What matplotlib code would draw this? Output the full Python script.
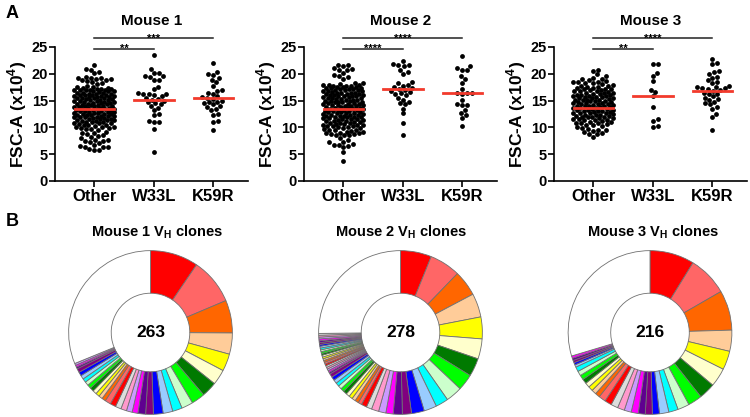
import matplotlib
matplotlib.use("Agg")
import matplotlib.pyplot as plt
import numpy as np

plt.rcParams['font.family'] = ['Liberation Sans', 'DejaVu Sans']
plt.rcParams['font.weight'] = 'bold'
plt.rcParams['mathtext.fontset'] = 'custom'
plt.rcParams['mathtext.rm'] = 'Liberation Sans:bold'
plt.rcParams['mathtext.bf'] = 'Liberation Sans:bold'

groups = ['Other', 'W33L', 'K59R']

# FSC-A values (x10^4)
other1 = [21.7, 20.9, 20.8, 20.3, 20.1,
          19.4, 19.3, 19.3, 19.2, 19.1, 19.0, 18.9, 18.8, 18.7, 18.5, 18.3, 18.1,
          17.8, 17.6, 17.4, 17.3, 17.2, 17.1, 17.0, 17.0, 16.9, 16.9, 16.8, 16.7, 16.6, 16.5,
          16.4, 16.3, 16.2, 16.1, 16.0, 16.0, 15.9, 15.8, 15.7, 15.6, 15.5, 15.5, 15.4, 15.3, 15.2, 15.1, 15.0,
          14.9, 14.8, 14.7, 14.6, 14.5, 14.5, 14.4, 14.3, 14.2, 14.1, 14.0, 14.0, 13.9, 13.8, 13.7, 13.6,
          13.5, 13.5, 13.4, 13.3, 13.2, 13.1, 13.0,
          12.9, 12.8, 12.7, 12.6, 12.5, 12.5, 12.4, 12.3, 12.2, 12.1, 12.0, 12.0, 11.9, 11.8, 11.7, 11.6,
          11.5, 11.4, 11.3, 11.2, 11.1, 11.0,
          10.9, 10.8, 10.6, 10.5, 10.4, 10.3, 10.1, 10.0, 9.8, 9.7, 9.7, 9.6,
          9.2, 9.0, 8.9, 8.8, 8.5, 8.4, 8.3, 8.0,
          7.7, 7.6, 7.5, 7.5, 7.3, 7.0, 6.8, 6.5, 6.4, 6.4, 6.3, 5.9, 5.8, 5.8,
          17.45, 17.15, 16.95, 16.75, 16.45, 16.25, 16.05, 15.85, 15.65, 15.45, 15.25, 15.05,
          14.85, 14.65, 14.45, 14.25, 14.05, 13.85, 13.65, 13.45, 13.25, 13.05, 12.85, 12.65,
          12.45, 12.25, 12.05, 11.85, 11.65, 11.45, 11.25, 11.05, 10.75, 10.45, 10.15, 9.85]
w33l1 = [23.6, 20.9, 20.2, 20.2, 19.6, 19.5, 19.4, 18.9, 18.8, 17.6, 17.2, 16.4, 16.3, 16.2,
         16.2, 16.1, 15.8, 15.5, 15.3, 15.2, 15.0, 14.7, 14.5, 14.3, 14.0, 13.6, 13.2, 12.5,
         12.3, 11.2, 11.0, 11.0, 9.7, 5.4]
k59r1 = [22.1, 20.3, 20.0, 19.8, 19.2, 18.9, 18.5, 17.8, 17.0, 16.8, 16.4, 16.2, 15.8, 15.6,
         15.5, 15.3, 15.0, 14.8, 14.7, 14.5, 14.3, 14.0, 13.8, 13.5, 13.2, 12.5, 12.4, 11.2,
         11.0, 9.6]

other2 = [21.7, 21.6, 21.4, 21.1, 20.9, 20.8, 20.7, 20.2, 19.8, 19.6, 19.4, 19.1,
          18.3, 18.2, 18.1, 18.0, 17.9, 17.9, 17.8, 17.7, 17.6, 17.5, 17.5, 17.4, 17.3, 17.2,
          17.1, 17.1, 17.0, 16.9, 16.8, 16.8, 16.7, 16.6, 16.5, 16.4, 16.4, 16.3, 16.2, 16.1,
          16.0, 16.0, 15.9, 15.8, 15.8, 15.7, 15.6, 15.5, 15.5, 15.4, 15.3, 15.2, 15.1, 15.1,
          15.0, 14.9, 14.8, 14.8, 14.7, 14.6, 14.5, 14.4, 14.4, 14.3, 14.2, 14.1, 14.0, 14.0,
          13.9, 13.8, 13.7, 13.7, 13.6, 13.5, 13.4, 13.4, 13.3, 13.2, 13.1, 13.0, 13.0, 12.9,
          12.8, 12.7, 12.7, 12.6, 12.5, 12.4, 12.3, 12.3, 12.2, 12.1, 12.0, 12.0,
          11.9, 11.8, 11.7, 11.6, 11.6, 11.5, 11.4, 11.3, 11.2, 11.2, 11.1, 11.0, 10.9, 10.8,
          10.7, 10.6, 10.5, 10.4, 10.3, 10.2, 10.1, 10.0,
          9.9, 9.8, 9.6, 9.5, 9.4, 9.2, 9.1, 9.0, 8.9, 8.8, 8.7, 8.6, 8.5, 8.5,
          8.0, 7.6, 7.3, 7.2, 6.9, 6.8, 6.8, 6.5, 6.4, 5.5, 3.7,
          17.65, 17.35, 16.95, 16.45, 16.15, 15.85, 15.35, 14.95, 14.65, 14.15, 13.85, 13.25,
          12.95, 12.45, 12.15, 11.85, 11.25, 10.85, 10.45, 10.25, 9.75, 9.45, 8.95]
w33l2 = [22.3, 21.9, 21.7, 21.6, 21.4, 20.8, 20.3, 20.0, 18.4, 18.2, 18.0, 17.8, 17.6, 17.4,
         17.2, 17.0, 16.8, 16.6, 16.4, 16.2, 16.0, 15.5, 15.2, 14.8, 14.5, 14.3, 13.5, 12.6,
         10.8, 8.6]
k59r2 = [23.4, 21.4, 21.0, 20.7, 20.7, 19.5, 19.0, 18.2, 17.2, 16.5, 16.4, 16.4, 16.3, 15.2,
         14.3, 14.2, 14.1, 13.2, 12.6, 12.3, 11.7, 10.2]

other3 = [20.8, 20.6, 19.9, 19.5, 19.3, 19.1, 19.0, 18.8, 18.6, 18.5, 18.5, 18.4, 18.3, 18.2, 18.1,
          17.9, 17.8, 17.6, 17.5, 17.4, 17.3, 17.2, 17.1, 17.0, 16.9, 16.8, 16.7, 16.6, 16.5,
          16.4, 16.3, 16.2, 16.1, 16.0, 16.0,
          15.9, 15.8, 15.7, 15.7, 15.6, 15.5, 15.4, 15.3, 15.2, 15.2, 15.1, 15.0, 14.9, 14.8,
          14.7, 14.6, 14.6, 14.5, 14.4, 14.3, 14.2, 14.1, 14.0, 14.0,
          13.9, 13.8, 13.8, 13.7, 13.6, 13.5, 13.4, 13.3, 13.3, 13.2, 13.1, 13.0, 12.9, 12.8,
          12.7, 12.7, 12.6, 12.5, 12.4, 12.3, 12.2, 12.1, 12.0, 12.0,
          11.9, 11.8, 11.7, 11.6, 11.5, 11.4, 11.3, 11.2, 11.1, 11.0, 10.9, 10.8, 10.6, 10.5,
          10.4, 10.2, 10.0, 9.9, 9.7, 9.6, 9.5, 9.4, 9.1, 9.0, 8.8, 8.7, 8.2,
          17.65, 17.15, 16.85, 16.35, 15.95, 15.55, 15.15, 14.85, 14.35, 13.95, 13.65, 13.15,
          12.75, 12.35, 11.95, 11.45, 10.75]
w33l3 = [21.8, 21.8, 20.1, 19.6, 18.7, 17.0, 16.6, 15.8, 13.8, 11.5, 11.2, 10.3, 10.1]
k59r3 = [22.7, 22.0, 21.8, 20.5, 20.3, 20.0, 19.4, 19.3, 18.8, 18.5, 18.2, 17.8, 17.5, 17.5,
         17.4, 17.3, 17.2, 17.0, 16.8, 16.5, 16.3, 16.2, 15.8, 15.5, 15.3, 15.2, 14.8, 14.5,
         14.3, 13.8, 13.5, 12.5, 12.0, 9.5]

mice = ['Mouse 1', 'Mouse 2', 'Mouse 3']
scatter_data = [[other1, w33l1, k59r1], [other2, w33l2, k59r2], [other3, w33l3, k59r3]]
medians = [[13.4, 15.2, 15.5], [13.5, 17.2, 16.4], [13.7, 15.8, 16.7]]
stars = [['**', '***'], ['****', '****'], ['**', '****']]

# clone sizes per donut, white "rest" last
clones1 = [25, 24, 17, 11, 9, 8, 8, 7, 6, 5, 5, 5, 4, 4, 3, 3, 3, 3, 3, 3,
           2, 2, 2, 2, 2, 2, 2, 2, 2, 2, 2, 1, 1, 1]
rest1 = 82
clones2 = [17, 17, 14, 13, 12, 11, 10, 9, 9, 7, 7, 7, 5, 5, 4, 4, 4, 3, 3,
           2, 2, 2, 2, 2, 2, 2, 2, 2, 2, 2, 2,
           1, 1, 1, 1, 1, 1, 1, 1, 1, 1, 1, 1, 1, 1, 1, 1, 1, 1, 1, 1, 1, 1, 1]
rest2 = 70
clones3 = [19, 17, 17, 9, 8, 8, 7, 6, 5, 4, 4, 3, 3, 3, 3, 3, 3, 3, 3, 3,
           2, 2, 2, 2, 2, 2, 2, 2, 1, 1, 1, 1, 1]
rest3 = 64
totals = [263, 278, 216]
clone_sets = [(clones1, rest1), (clones2, rest2), (clones3, rest3)]

palette = ['#FF0000', '#FF6666', '#FF6600', '#FFCC99', '#FFFF00', '#FFFFCC',
           '#007A00', '#00FF00', '#CCFFCC', '#00FFFF', '#99CCFF', '#0000FF',
           '#800080', '#5F0090', '#FF00FF', '#CC99FF', '#FF99CC', '#DDDDDD']


def swarm(vals, xs=60.0, ys=5.36, d=4.8, maxw=20.0):
    # simple beeswarm in pixel space, returns x offsets in data units
    vals = np.asarray(vals, float)
    order = np.argsort(vals)
    steps = np.arange(0.5, maxw + 0.01, 0.5)
    cands = np.concatenate([[0.0], np.ravel(np.column_stack([steps, -steps]))])
    px, py = [], []
    off = np.zeros(len(vals))
    for i in order:
        y = vals[i] * ys
        if px:
            dist = np.sqrt((cands[:, None] - np.array(px)[None, :]) ** 2 +
                           (y - np.array(py)[None, :]) ** 2).min(axis=1)
            ok = np.where(dist >= d)[0]
            j = ok[0] if len(ok) else np.argmax(dist)
        else:
            j = 0
        px.append(cands[j])
        py.append(y)
        off[i] = cands[j] / xs
    return off


fig = plt.figure(figsize=(7.5, 4.17), dpi=100)

lefts = [55, 304, 554]
for k in range(3):
    ax = fig.add_axes([lefts[k] / 750, 1 - 181 / 417, 193 / 750, 134 / 417])
    for g, vals in enumerate(scatter_data[k]):
        xo = swarm(vals)
        ax.scatter(g + xo, vals, s=12, color='black', linewidths=0, zorder=2)
        ax.plot([g - 0.33, g + 0.33], [medians[k][g]] * 2, color='#F23A2C', lw=2, zorder=3)
    ax.set_xlim(-0.66, 2.58)
    ax.set_ylim(0, 25)
    ax.set_yticks([0, 5, 10, 15, 20, 25])
    ax.set_xticks([0, 1, 2])
    ax.set_xticklabels(groups, fontsize=12, fontweight='bold')
    ax.tick_params(axis='y', labelsize=10.5, width=1.2, length=4, pad=1)
    ax.tick_params(axis='x', width=1.2, length=4, pad=2)
    for s in ['top', 'right']:
        ax.spines[s].set_visible(False)
    for s in ['left', 'bottom']:
        ax.spines[s].set_linewidth(1.2)
    ax.set_ylabel('FSC-A (x10$^{4}$)', fontsize=12.5, fontweight='bold', labelpad=2)
    ax.set_title(mice[k], fontsize=11, fontweight='bold', pad=15.5)
    # significance brackets
    ax.plot([0, 1], [24.6, 24.6], color='#222222', lw=1.1, clip_on=False)
    ax.text(0.5, 24.05, stars[k][0], ha='center', va='baseline', fontsize=8)
    ax.plot([0, 2], [26.6, 26.6], color='#222222', lw=1.1, clip_on=False)
    ax.text(1, 26.05, stars[k][1], ha='center', va='baseline', fontsize=8)

centers = [150.5, 400.5, 650]
title_x = [157, 401, 653]
for k in range(3):
    clones, rest = clone_sets[k]
    sizes = clones + [rest]
    cols = [palette[i % len(palette)] for i in range(len(clones))] + ['white']
    r = 83.5
    ax = fig.add_axes([(centers[k] - r) / 750, (417 - 332.5 - r) / 417, 2 * r / 750, 2 * r / 417])
    ax.pie(sizes, colors=cols, startangle=90, counterclock=False,
           wedgeprops=dict(width=0.52, edgecolor='#707070', linewidth=0.6))
    ax.set_xlim(-1.02, 1.02)
    ax.set_ylim(-1.02, 1.02)
    ax.text(0, 0, str(totals[k]), ha='center', va='center', fontsize=12.5, fontweight='bold')
    fig.text(title_x[k] / 750, 1 - 232 / 417, 'Mouse %d V$_\\mathbf{H}$ clones' % (k + 1),
             ha='center', va='center', fontsize=10.5, fontweight='bold')

fig.text(6 / 750, 1 - 13 / 417, 'A', fontsize=13, fontweight='bold', va='center')
fig.text(6 / 750, 1 - 221 / 417, 'B', fontsize=13, fontweight='bold', va='center')

fig.savefig('out.png', dpi=100)
